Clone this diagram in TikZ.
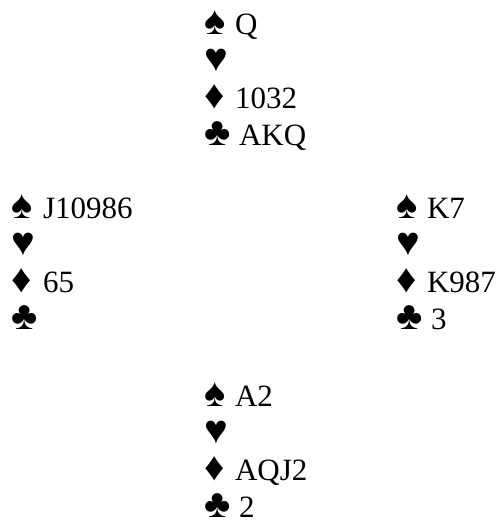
\documentclass[tikz,border=0pt]{standalone}
\usepackage{fontspec}
\setmainfont{Liberation Serif}
\begin{document}
\begin{tikzpicture}[x=1pt,y=-1pt,
  cardtext/.style={anchor=base west,inner sep=0pt,outer sep=0pt,font=\fontsize{31}{37}\selectfont},
  suit/.style={anchor=base west,inner sep=0pt,outer sep=0pt,font=\fontsize{40}{48}\selectfont}]
\useasboundingbox (0,0) rectangle (496,525);
\newcommand{\handlines}[7]{%
  \node[suit] (#1S) at (#2,#3) {♠};
  \node[cardtext] (#1s) at (#2+31,#3) {#4};
  \node[suit] (#1H) at (#2,#3+37) {♥};
  \node[suit] (#1D) at (#2,#3+74) {♦};
  \node[cardtext] (#1d) at (#2+31,#3+74) {#6};
  \node[suit] (#1C) at (#2,#3+111) {♣};
  \node[cardtext] (#1c) at (#2+35,#3+111) {#7};
}
\handlines{n}{204}{34}{Q}{}{1032}{AKQ}
\handlines{w}{12}{218}{J10986}{}{65}{}
\handlines{e}{396}{218}{K7}{}{K987}{3}
\handlines{s}{204}{406}{A2}{}{AQJ2}{2}
\end{tikzpicture}
\end{document}
